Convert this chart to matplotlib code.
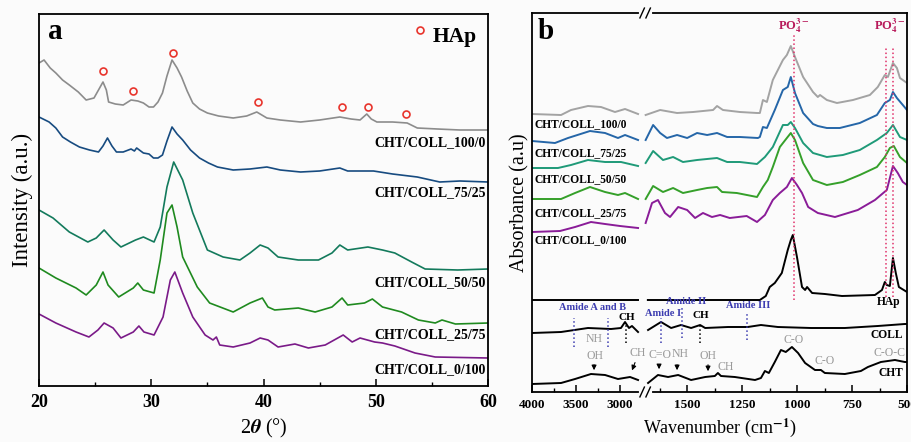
import numpy as np
import matplotlib
matplotlib.use("Agg")
import matplotlib.pyplot as plt
from matplotlib.ticker import FixedLocator

plt.rcParams['font.family'] = ['Liberation Serif', 'DejaVu Serif']
plt.rcParams['font.weight'] = 'bold'
plt.rcParams['mathtext.fontset'] = 'stix'

# ---------------- panel a : XRD (2theta, intensity a.u., stacked) ----------------
xa_100_0 = [20.0, 20.45, 21.0, 21.5, 22.1, 22.7, 23.5, 24.2, 24.9, 25.4, 25.7, 26.0, 26.2, 26.8, 27.5,
            28.2, 28.8, 29.3, 29.8, 30.2, 30.6, 31.0, 31.4, 31.85, 32.3, 32.7, 33.2, 33.7, 34.3, 35.0,
            36.0, 37.3, 38.5, 39.4, 40.3, 41.5, 43.3, 45.0, 46.2, 46.8, 47.8, 48.6, 49.2, 49.6, 50.1,
            51.5, 52.8, 53.7, 55.5, 57.5, 60.0]
ya_100_0 = [323, 326, 318, 313, 306, 301, 294, 286, 288, 298, 304, 296, 284, 282, 281,
            286, 285, 283, 279, 279, 284, 293, 310, 326, 318, 309, 295, 283, 277, 273,
            270, 268, 270, 274, 268, 266, 264, 266, 268, 269, 267, 266, 272, 267, 264,
            264, 263, 258, 257, 256, 256]

xa_75_25 = [20.0, 20.9, 21.5, 22.1, 22.8, 23.6, 24.5, 25.3, 25.7, 26.1, 26.5, 26.9, 27.5, 28.2, 28.5,
            28.7, 29.3, 29.8, 30.2, 30.6, 31.0, 31.4, 31.85, 32.3, 32.8, 33.5, 34.3, 35.1, 35.9, 37.3,
            38.8, 40.3, 41.5, 43.3, 45.0, 46.8, 47.5, 49.8, 51.5, 53.7, 55.7, 57.5, 60.0]
ya_75_25 = [269, 264, 258, 249, 244, 239, 236, 234, 240, 248, 240, 234, 234, 237, 235,
            238, 233, 232, 228, 228, 231, 245, 259, 252, 246, 236, 228, 223, 219, 216,
            217, 219, 216, 214, 215, 218, 215, 215, 212, 209, 204, 205, 204]

xa_50_50 = [20.0, 21.25, 22.7, 24.35, 25.1, 25.8, 26.6, 27.3, 28.6, 29.3, 30.25, 30.8, 31.4, 32.0,
            32.8, 33.7, 35.0, 36.4, 37.9, 38.8, 39.7, 40.4, 41.3, 43.1, 44.9, 46.1, 46.8, 47.5, 49.3,
            50.6, 51.7, 53.2, 54.4, 57.3, 60.0]
ya_50_50 = [176, 168, 154, 144, 148, 156, 146, 139, 146, 149, 144, 159, 199, 224,
            206, 173, 136, 129, 126, 133, 141, 138, 129, 126, 126, 133, 141, 136, 139,
            136, 133, 124, 117, 116, 117]

xa_25_75 = [20.0, 21.5, 23.3, 24.2, 25.1, 25.7, 26.15, 27.1, 28.4, 28.8, 29.3, 30.25, 30.8, 31.4,
            31.85, 32.3, 32.8, 34.1, 35.2, 37.3, 38.8, 39.9, 40.4, 41.0, 43.1, 44.6, 46.1, 47.0, 47.5,
            49.0, 49.7, 50.6, 52.3, 53.8, 55.3, 55.9, 57.1, 60.0]
ya_25_75 = [118, 108, 98, 91, 101, 114, 101, 89, 98, 103, 96, 93, 126, 173,
            181, 159, 129, 99, 83, 74, 83, 88, 79, 76, 78, 74, 79, 88, 81,
            83, 87, 79, 74, 66, 63, 66, 62, 63]

xa_0_100 = [20.0, 21.5, 23.3, 24.45, 25.25, 25.8, 26.6, 27.3, 28.4, 28.9, 29.35, 30.25, 31.05, 31.7,
            32.1, 32.8, 33.7, 34.8, 35.5, 35.8, 36.1, 37.3, 38.8, 39.7, 40.4, 41.3, 42.8, 44.0, 45.5,
            47.1, 47.9, 48.6, 49.9, 50.6, 51.7, 53.5, 55.3, 60.0]
ya_0_100 = [72, 63, 54, 49, 56, 63, 58, 48, 54, 60, 54, 51, 69, 106,
            114, 93, 69, 51, 46, 49, 41, 39, 43, 48, 46, 39, 42, 38, 41,
            51, 44, 48, 44, 43, 40, 33, 29, 28]

hap_peaks_x = [25.7, 28.4, 31.9, 39.5, 47.0, 49.3, 52.7]
hap_peaks_y = [315, 295, 333, 284, 279, 279, 272]

labels_a = ['CHT/COLL_100/0', 'CHT/COLL_75/25', 'CHT/COLL_50/50', 'CHT/COLL_25/75', 'CHT/COLL_0/100']
label_a_y = [243, 193, 103, 51, 16]
colors_a = ['#8c8c8c', '#174b80', '#137a5c', '#1f8a1f', '#7a1a88']

# ---------------- panel b : FTIR (wavenumber, absorbance a.u., stacked) ----------------
wb_100_0 = [4000, 3670, 3557, 3364, 3216, 3057, 2943, 2795,
            1690, 1624, 1547, 1474, 1383, 1365, 1338, 1261, 1183, 1170, 1156, 1138, 1111, 1065, 1047,
            1029, 1010, 973, 928, 906, 896, 865, 819, 746, 669, 633, 601, 587, 564, 546, 532, 500]
yb_100_0 = [278, 277, 282, 286, 285, 280, 283, 278,
            277, 282, 279, 280, 282, 286, 282, 280, 279, 279, 292, 290, 312, 332, 337,
            346, 335, 315, 300, 295, 297, 292, 289, 292, 297, 305, 317, 315, 329, 324, 314, 309]

wb_75_25 = [4000, 3739, 3591, 3341, 3170, 3023, 2943, 2795,
            1690, 1656, 1624, 1593, 1547, 1501, 1456, 1410, 1365, 1319, 1261, 1179, 1170, 1156, 1138,
            1102, 1065, 1043, 1029, 1010, 973, 928, 906, 865, 806, 715, 637, 601, 578, 564, 546, 519, 500]
yb_75_25 = [251, 249, 254, 261, 259, 254, 257, 252,
            252, 267, 259, 254, 257, 254, 259, 257, 259, 255, 255, 254, 255, 265, 264,
            282, 302, 305, 315, 299, 279, 268, 266, 264, 264, 269, 277, 289, 292, 300, 294, 287, 282]

wb_50_50 = [4000, 3705, 3557, 3364, 3170, 2989, 2795,
            1690, 1656, 1611, 1565, 1520, 1456, 1365, 1319, 1261, 1183, 1147, 1111, 1065, 1043, 1029,
            1010, 973, 928, 865, 792, 715, 637, 592, 564, 532, 500]
yb_50_50 = [224, 224, 227, 232, 230, 230, 226,
            229, 241, 232, 235, 230, 232, 234, 230, 230, 228, 235, 245, 267, 267, 270,
            264, 249, 239, 235, 237, 242, 252, 259, 267, 255, 252]

wb_25_75 = [4000, 3670, 3511, 3341, 3170, 3023, 2943, 2795,
            1690, 1656, 1611, 1565, 1520, 1456, 1410, 1365, 1342, 1275, 1183, 1156, 1134, 1111, 1079,
            1047, 1029, 1010, 973, 928, 865, 792, 715, 637, 601, 578, 560, 532, 500]
yb_25_75 = [193, 193, 199, 205, 200, 197, 199, 193,
            193, 206, 200, 204, 199, 202, 204, 205, 200, 199, 195, 205, 212, 225, 245,
            254, 259, 252, 229, 212, 207, 210, 217, 225, 235, 244, 246, 235, 229]

wb_0_100 = [4000, 3682, 3511, 3330, 3170, 3000, 2795,
            1690, 1661, 1634, 1602, 1579, 1542, 1501, 1465, 1429, 1388, 1351, 1307, 1230, 1183, 1147,
            1111, 1079, 1047, 1024, 1001, 978, 950, 906, 828, 724, 646, 592, 564, 542, 519, 500]
yb_0_100 = [160, 161, 165, 170, 168, 166, 164,
            169, 189, 192, 179, 175, 185, 182, 174, 179, 175, 177, 174, 176, 170, 177,
            192, 199, 205, 214, 207, 199, 185, 179, 175, 182, 192, 202, 226, 219, 210, 207]

wb_hap = [4000, 3400, 2790,
          1680, 1170, 1143, 1125, 1102, 1070, 1043, 1029, 1020, 1001, 978, 964, 955, 932, 874, 796,
          646, 614, 601, 592, 578, 564, 551, 537, 500]
yb_hap = [92, 92, 92,
          92, 92, 96, 105, 109, 119, 142, 152, 157, 135, 105, 102, 105, 99, 98, 96,
          97, 102, 110, 107, 106, 134, 119, 105, 100]

wb_coll = [4000, 3670, 3364, 3102, 2989, 2943, 2898, 2864, 2795,
           1679, 1620, 1574, 1529, 1483, 1442, 1419, 1315, 1225, 1165, 1088, 937, 783, 633, 510, 500]
yb_coll = [59, 60, 64, 63, 64, 70, 64, 66, 60,
           62, 70, 64, 67, 64, 67, 64, 65, 65, 67, 65, 64, 64, 66, 68, 68]

wb_cht = [4000, 3670, 3511, 3330, 3170, 3023, 2886, 2795,
          1679, 1634, 1588, 1542, 1483, 1419, 1375, 1361, 1347, 1284, 1192, 1165, 1147, 1129, 1102,
          1074, 1052, 1024, 996, 964, 919, 892, 874, 783, 710, 678, 619, 555, 510, 500]
yb_cht = [8, 9, 13, 18, 17, 13, 15, 12,
          9, 17, 15, 17, 12, 15, 16, 19, 16, 15, 12, 14, 21, 19, 30,
          42, 40, 45, 39, 29, 22, 22, 19, 18, 21, 25, 30, 32, 30, 30]

labels_b = ['CHT/COLL_100/0', 'CHT/COLL_75/25', 'CHT/COLL_50/50', 'CHT/COLL_25/75', 'CHT/COLL_0/100']
label_b_y = [268, 239, 213, 179, 152]
colors_b = ['#a3a3a3', '#2566a8', '#1f9a78', '#35a02a', '#8a1c98']

po4_lines = [1014, 596, 562]
amide_lines = [3523, 3136, 1620, 1524, 1230]
ch_lines = [2932, 1442]

# ---------------- broken wavenumber axis (increasing in w, axis inverted later) ----------------
WL, WR = 2720.0, 1690.0
SL, SR = 0.088, 0.2196
GAP = 1.0
UL = (4000 - WL) * SL


def fwd(w):
    w = np.asarray(w, float)
    u = np.where(w >= WL, (4000 - w) * SL,
                 np.where(w > WR, UL + (WL - w) / (WL - WR) * GAP,
                          UL + GAP + (WR - w) * SR))
    return -u


def inv(v):
    u = -np.asarray(v, float)
    return np.where(u <= UL, 4000 - u / SL,
                    np.where(u < UL + GAP, WL - (u - UL) / GAP * (WL - WR),
                             WR - (u - UL - GAP) / SR))


fig = plt.figure(figsize=(9.12, 4.42), dpi=100, facecolor='#fbfbfb')

# ---------------- panel a ----------------
ax = fig.add_axes([39 / 912, 56 / 442, 449 / 912, 372 / 442], facecolor='#fbfbfb')
series_a = [(xa_100_0, ya_100_0), (xa_75_25, ya_75_25), (xa_50_50, ya_50_50),
            (xa_25_75, ya_25_75), (xa_0_100, ya_0_100)]
for (x, y), c, lab, ly in zip(series_a, colors_a, labels_a, label_a_y):
    ax.plot(x, y, color=c, lw=1.2)
    ax.text(59.8, ly, lab, ha='right', va='center', fontsize=10)
ax.plot(hap_peaks_x, hap_peaks_y, 'o', mfc='none', mec='#e8342c', mew=1.2, ms=5)
ax.plot([53.9], [356], 'o', mfc='none', mec='#e8342c', mew=1.2, ms=5)
ax.text(55.1, 349, 'HAp', fontsize=15.5, va='center', ha='left')
ax.text(0.02, 0.933, 'a', transform=ax.transAxes, fontsize=21, va='baseline')
ax.set_xlim(20, 60)
ax.set_ylim(0, 372)
ax.set_xticks([20, 30, 40, 50, 60])
ax.xaxis.set_minor_locator(FixedLocator([25, 35, 45, 55]))
ax.set_yticks([])
ax.tick_params(axis='x', which='major', direction='in', length=5, width=1.1, labelsize=13, pad=6)
ax.tick_params(axis='x', which='minor', direction='in', length=3, width=1.0)
ax.set_xlabel(r'2$\theta$ (°)', fontsize=14.5, labelpad=4)
ax.set_ylabel('Intensity (a.u.)', fontsize=16.5, labelpad=4)
for s in ax.spines.values():
    s.set_linewidth(1.3)

# ---------------- panel b ----------------
bx = fig.add_axes([532 / 912, 50 / 442, 375 / 912, 379 / 442], facecolor='#fbfbfb')
bx.set_xscale('function', functions=(fwd, inv))

series_b = [(wb_100_0, yb_100_0), (wb_75_25, yb_75_25), (wb_50_50, yb_50_50),
            (wb_25_75, yb_25_75), (wb_0_100, yb_0_100)]
colors_all = colors_b + ['k', 'k', 'k']
series_all = series_b + [(wb_hap, yb_hap), (wb_coll, yb_coll), (wb_cht, yb_cht)]
for (w, y), c in zip(series_all, colors_all):
    w = np.array(w)
    y = np.array(y)
    left = w > 2000
    bx.plot(w[left], y[left], color=c, lw=1.4)
    bx.plot(w[~left], y[~left], color=c, lw=1.4)

ytr = bx.get_yaxis_transform()
for lab, ly in zip(labels_b, label_b_y):
    bx.text(0.006, ly, lab, transform=ytr, ha='left', va='center', fontsize=8.3)
bx.text(0.982, 90, 'HAp', transform=ytr, ha='right', va='center', fontsize=8.3)
bx.text(0.99, 57, 'COLL', transform=ytr, ha='right', va='center', fontsize=8.3)
bx.text(0.99, 19, 'CHT', transform=ytr, ha='right', va='center', fontsize=8.3)

po4c = '#b8195a'
bx.vlines(po4_lines[0], 92, 359, colors='#e0306a', linestyles=':', lw=1.1)
bx.vlines(po4_lines[1:], 95, 345, colors='#e0306a', linestyles=':', lw=1.1)
bx.text(1014, 366, r'PO$_4^{3-}$', color=po4c, fontsize=9, ha='center', va='center')
bx.text(578, 366, r'PO$_4^{3-}$', color=po4c, fontsize=9, ha='center', va='center')

amc = '#3c3cb0'
bx.vlines(amide_lines[:2], 45, 74, colors=amc, linestyles=':', lw=1.1)
bx.vlines(amide_lines[2], 49, 74, colors=amc, linestyles=':', lw=1.1)
bx.vlines(amide_lines[3], 54, 85, colors=amc, linestyles=':', lw=1.1)
bx.vlines(amide_lines[4], 52, 79, colors=amc, linestyles=':', lw=1.1)
bx.vlines(ch_lines, 49, 69, colors='k', linestyles=':', lw=1.1)
bx.text(3307, 85, 'Amide A and B', color=amc, fontsize=7.5, ha='center', va='center')
bx.text(1611, 79, 'Amide I', color=amc, fontsize=7.5, ha='center', va='center')
bx.text(1506, 90, 'Amide II', color=amc, fontsize=7.5, ha='center', va='center')
bx.text(1225, 86, 'Amide III', color=amc, fontsize=7.5, ha='center', va='center')
bx.text(2920, 75, 'CH', fontsize=8, ha='center', va='center')
bx.text(1438, 76, 'CH', fontsize=8, ha='center', va='center')

gc = '#9a9a9a'
for txt, w, y in [('NH', 3295, 53), ('OH', 3284, 36), ('CH', 2795, 39), ('C=O', 1624, 37),
                  ('NH', 1533, 38), ('OH', 1406, 36), ('CH', 1324, 25), ('C-O', 1018, 52),
                  ('C-O', 874, 31), ('C-O-C', 578, 39)]:
    bx.text(w, y, txt, color=gc, fontsize=8.5, fontweight='normal', ha='center', va='center')

arrows = [((3295, 30), (3295, 19)), ((2818, 32), (2875, 19)), ((1629, 30), (1629, 20)),
          ((1547, 30), (1547, 19)), ((1406, 30), (1406, 18))]
for (x0, y0), (x1, y1) in arrows:
    bx.annotate('', xy=(x1, y1), xytext=(x0, y0),
                arrowprops=dict(arrowstyle='-|>', color='k', lw=0.8, mutation_scale=7))

bx.set_xlim(4000, 500)
bx.set_ylim(0, 379)
bx.xaxis.set_major_locator(FixedLocator([4000, 3500, 3000, 1500, 1250, 1000, 750, 500]))
bx.xaxis.set_minor_locator(FixedLocator([3750, 3250, 1625, 1375, 1125, 875, 625]))
bx.set_xticklabels(['4000', '3500', '3000', '1500', '1250', '1000', '750', '500'])
bx.set_yticks([])
bx.tick_params(axis='x', which='major', direction='in', length=5, width=1.1, labelsize=9.5, pad=5)
bx.tick_params(axis='x', which='minor', direction='in', length=3, width=1.0)
bx.set_xlabel(r'Wavenumber (cm$^{-1}$)', fontsize=13, labelpad=4)
bx.set_ylabel('Absorbance (a.u)', fontsize=14.5, labelpad=2)
bx.text(0.016, 0.931, 'b', transform=bx.transAxes, fontsize=21, va='baseline')
for s in bx.spines.values():
    s.set_linewidth(1.3)

# break marks on top and bottom spines
xb = float(fwd(2205.0) / fwd(500.0))
for yb in (0.0, 1.0):
    bx.plot([xb - 0.012, xb + 0.012], [yb, yb], color='#fbfbfb', lw=3,
            transform=bx.transAxes, clip_on=False, zorder=5)
    for dx in (-0.008, 0.008):
        bx.plot([xb + dx - 0.006, xb + dx + 0.006], [yb - 0.013, yb + 0.013], color='k', lw=1.0,
                transform=bx.transAxes, clip_on=False, zorder=6)

fig.savefig('out.png', dpi=100, facecolor=fig.get_facecolor())
